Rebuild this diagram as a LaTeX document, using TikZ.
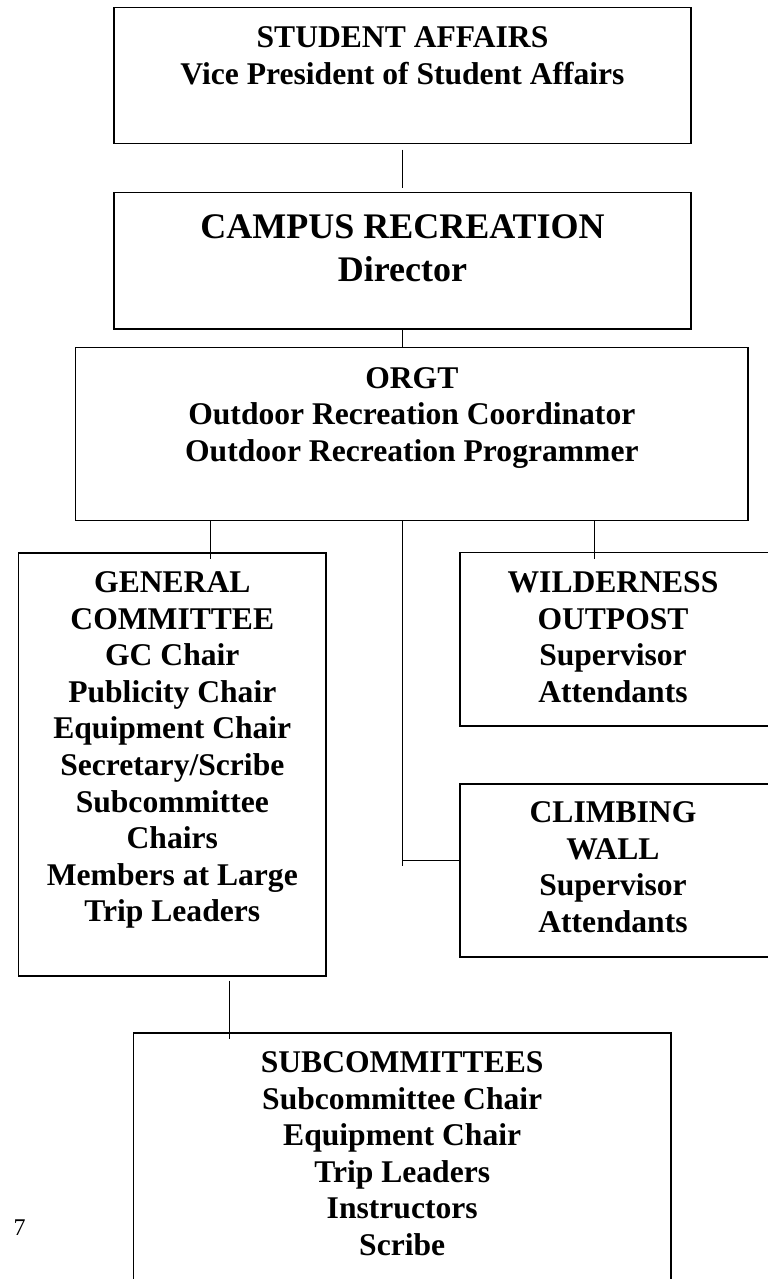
\documentclass[tikz,border=0pt]{standalone}
\usepackage{fontspec}
\setmainfont{Liberation Serif}
\usetikzlibrary{fit, positioning}

\begin{document}
\begin{tikzpicture}[x = 0.5pt, y = -0.5pt, % one unit per pixel, y going down
                line width = 0.6pt % line style
            ]

            \tikzstyle{box}=[draw = black, rectangle, inner sep = 0pt,
            line width = 0.65pt]
            \tikzstyle{txt}=[align = center, inner sep = 0pt,
            font = \bfseries\fontsize{15.8}{18.3}\selectfont]

            \useasboundingbox (0,0) rectangle (767,1279);

            % boxes
            \node[box, fit = {(114,7.3) (691,143.3)}] (sa) {};
            \node[box, fit = {(114,192.7) (691,329)}] (cr) {};
            \node[box, fit = {(75.7,347.3) (748,520.3)}] (orgt) {};
            \node[box, fit = {(18.6,553) (326,976)}] (gc) {};
            \node[box, fit = {(460,552.7) (774,726)}] (wo) {};
            \node[box, fit = {(460,784) (774,957)}] (cw) {};
            \node[box, fit = {(133.4,1033) (671,1295)}] (sub) {};

            % texts
            \node[txt, below = 9.7pt of sa.north] (satext) {STUDENT
            AFFAIRS\\Vice President of Student Affairs};
            \node[txt, font = \bfseries\fontsize{18}{21.2}\selectfont,
            below = 11.2pt of cr.north] (crtext) {CAMPUS RECREATION\\Director};
            \node[txt, below = 10pt of orgt.north] (orgttext) {ORGT\\Outdoor
            Recreation Coordinator\\Outdoor Recreation Programmer};
            \node[txt, below = 9.35pt of gc.north] (gctext) {GENERAL\\COMMITTEE\\GC
            Chair\\Publicity Chair\\Equipment Chair\\Secretary/Scribe\\Subcommittee\\Chairs\\Members
            at Large\\Trip Leaders};
            \node[txt, below = 9.5pt of wo.north, xshift = -2pt] (wotext)
            {WILDERNESS\\OUTPOST\\Supervisor\\Attendants};
            \node[txt, below = 8.85pt of cw.north, xshift = -2pt] (cwtext)
            {CLIMBING\\WALL\\Supervisor\\Attendants};
            \node[txt, below = 9.35pt of sub.north] (subtext)
            {SUBCOMMITTEES\\Subcommittee Chair\\Equipment Chair\\Trip
            Leaders\\Instructors\\Scribe};
            \node[inner sep = 0pt, font = \fontsize{12}{14}\selectfont] (pagenum)
            at (19.5,1228) {7};

            % connectors
            \coordinate (gcjoin) at (210.7,558.7);
            \coordinate (wojoin) at (594.3,559);
            \coordinate (cwjoin) at (402.3,866);
            \coordinate (cwbranch) at (402.3,860.3);
            \coordinate (subjoin) at (229.6,1039);

            \draw[shorten < = 2.85pt, shorten > = 1.85pt] (sa.south) --
            (sa.south |- cr.north);
            \draw (cr.south) -- (cr.south |- orgt.north);
            \draw (orgt.south -| gcjoin) -- (gcjoin);
            \draw (orgt.south -| wojoin) -- (wojoin);
            \draw (orgt.south -| cwjoin) -- (cwjoin);
            \draw (cwbranch) -- (cwbranch -| cw.west);
            \draw (gc.south -| subjoin) ++(0,4) -- (subjoin);
\end{tikzpicture}
\end{document}
